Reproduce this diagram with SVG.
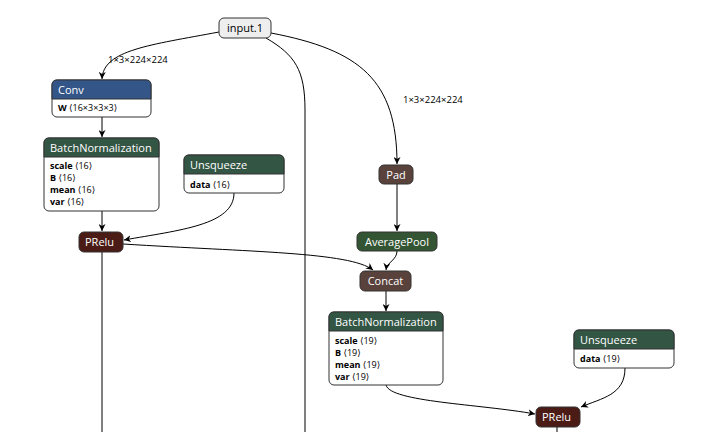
<svg xmlns="http://www.w3.org/2000/svg" width="711" height="432" viewBox="0 0 711 432">
<style>
.box{fill:#fff;stroke:#333;stroke-width:1}
.hd{stroke:#333;stroke-width:1}
.ht{font-family:"Open Sans","Noto Sans",sans-serif;font-size:11px;fill:#fff}
.bt{font-family:"Open Sans","Noto Sans",sans-serif;font-size:9px;fill:#000}
.bt tspan.b{font-weight:bold}
.bt tspan.k{font-family:"DejaVu Sans",sans-serif}
.e{fill:none;stroke:#000;stroke-width:1}
.el{font-family:"Open Sans","Noto Sans",sans-serif;font-size:9.5px;fill:#000}
.layer{fill:rgb(51,85,136)}
.act{fill:rgb(75,27,22)}
.pool{fill:rgb(51,85,51)}
.norm{fill:rgb(51,85,68)}
.tens{fill:rgb(89,66,59)}
</style>
<defs>
<marker id="arr" viewBox="0 0 10 10" refX="10" refY="5" markerWidth="7" markerHeight="7" markerUnits="userSpaceOnUse" orient="auto">
<path d="M0,0 L10,5 L0,10 L3,5 Z" fill="#000"/>
</marker>
</defs>
<rect width="711" height="432" fill="#fff"/>
<g id="edges">
<path class="e" d="M219,32 C150,45 103,50 102,79" marker-end="url(#arr)"/>
<text class="el" x="108" y="63">1×3×224×224</text>
<path class="e" d="M271,33 C360,50 397,80 397,164" marker-end="url(#arr)"/>
<text class="el" x="403" y="103">1×3×224×224</text>
<path class="e" d="M266,38 C295,55 305,70 305,110 L305,432"/>
<path class="e" d="M102,117 L102,137" marker-end="url(#arr)"/>
<path class="e" d="M102,211 L102,231" marker-end="url(#arr)"/>
<path class="e" d="M234,193 C234,225 180,230 124,240" marker-end="url(#arr)"/>
<path class="e" d="M123,244 C250,252 350,252 373,270" marker-end="url(#arr)"/>
<path class="e" d="M102,252 L102,432"/>
<path class="e" d="M397,184 L397,231" marker-end="url(#arr)"/>
<path class="e" d="M397,251 C397,260 387,262 386,270" marker-end="url(#arr)"/>
<path class="e" d="M386,291 L386,311" marker-end="url(#arr)"/>
<path class="e" d="M386,385 C390,402 480,404 535,414" marker-end="url(#arr)"/>
<path class="e" d="M625,368 C625,395 602,398 581,407" marker-end="url(#arr)"/>
<path class="e" d="M557,426 L557,432"/>
</g>
<g id="input.1">
<rect x="219" y="18" width="52" height="20" rx="5" fill="#eee" stroke="#333"/>
<text x="245" y="32" text-anchor="middle" style="font-family:'Open Sans','Noto Sans',sans-serif;font-size:11px;fill:#000">input.1</text>
</g>
<g id="conv">
<rect class="box" x="52" y="80" width="99" height="37" rx="5"/>
<path class="hd layer" d="M52,99 V85 Q52,80 57,80 H146 Q151,80 151,85 V99 Z"/>
<text class="ht" x="58" y="94">Conv</text>
<text class="bt" x="58" y="111"><tspan class="b">W</tspan> <tspan class="k">⟨</tspan>16×3×3×3<tspan class="k">⟩</tspan></text>
</g>
<g id="bn1">
<rect class="box" x="44" y="138" width="115" height="73" rx="5"/>
<path class="hd norm" d="M44,157 V143 Q44,138 49,138 H154 Q159,138 159,143 V157 Z"/>
<text class="ht" x="50" y="152">BatchNormalization</text>
<text class="bt" x="50" y="169"><tspan class="b">scale</tspan> <tspan class="k">⟨</tspan>16<tspan class="k">⟩</tspan></text>
<text class="bt" x="50" y="181"><tspan class="b">B</tspan> <tspan class="k">⟨</tspan>16<tspan class="k">⟩</tspan></text>
<text class="bt" x="50" y="193"><tspan class="b">mean</tspan> <tspan class="k">⟨</tspan>16<tspan class="k">⟩</tspan></text>
<text class="bt" x="50" y="205"><tspan class="b">var</tspan> <tspan class="k">⟨</tspan>16<tspan class="k">⟩</tspan></text>
</g>
<g id="unsq1">
<rect class="box" x="184" y="155" width="100" height="38" rx="5"/>
<path class="hd norm" d="M184,174 V160 Q184,155 189,155 H279 Q284,155 284,160 V174 Z"/>
<text class="ht" x="190" y="169">Unsqueeze</text>
<text class="bt" x="190" y="188"><tspan class="b">data</tspan> <tspan class="k">⟨</tspan>16<tspan class="k">⟩</tspan></text>
</g>
<g id="prelu1">
<rect class="act" x="79" y="232" width="44" height="20" rx="5" stroke="#333"/>
<text class="ht" x="85" y="246">PRelu</text>
</g>
<g id="pad">
<rect class="tens" x="379" y="165" width="34" height="19" rx="5" stroke="#333"/>
<text class="ht" x="396" y="179" text-anchor="middle">Pad</text>
</g>
<g id="avgpool">
<rect class="pool" x="357" y="232" width="80" height="19" rx="5" stroke="#333"/>
<text class="ht" x="397" y="246" text-anchor="middle">AveragePool</text>
</g>
<g id="concat">
<rect class="tens" x="360" y="271" width="51" height="20" rx="5" stroke="#333"/>
<text class="ht" x="385.5" y="285" text-anchor="middle">Concat</text>
</g>
<g id="bn2">
<rect class="box" x="329" y="312" width="114" height="73" rx="5"/>
<path class="hd norm" d="M329,331 V317 Q329,312 334,312 H438 Q443,312 443,317 V331 Z"/>
<text class="ht" x="335" y="326">BatchNormalization</text>
<text class="bt" x="335" y="344"><tspan class="b">scale</tspan> <tspan class="k">⟨</tspan>19<tspan class="k">⟩</tspan></text>
<text class="bt" x="335" y="356"><tspan class="b">B</tspan> <tspan class="k">⟨</tspan>19<tspan class="k">⟩</tspan></text>
<text class="bt" x="335" y="368"><tspan class="b">mean</tspan> <tspan class="k">⟨</tspan>19<tspan class="k">⟩</tspan></text>
<text class="bt" x="335" y="380"><tspan class="b">var</tspan> <tspan class="k">⟨</tspan>19<tspan class="k">⟩</tspan></text>
</g>
<g id="unsq2">
<rect class="box" x="574" y="330" width="100" height="38" rx="5"/>
<path class="hd norm" d="M574,349 V335 Q574,330 579,330 H669 Q674,330 674,335 V349 Z"/>
<text class="ht" x="580" y="344">Unsqueeze</text>
<text class="bt" x="580" y="362"><tspan class="b">data</tspan> <tspan class="k">⟨</tspan>19<tspan class="k">⟩</tspan></text>
</g>
<g id="prelu2">
<rect class="act" x="536" y="407" width="44" height="20" rx="5" stroke="#333"/>
<text class="ht" x="542" y="421">PRelu</text>
</g>
</svg>
